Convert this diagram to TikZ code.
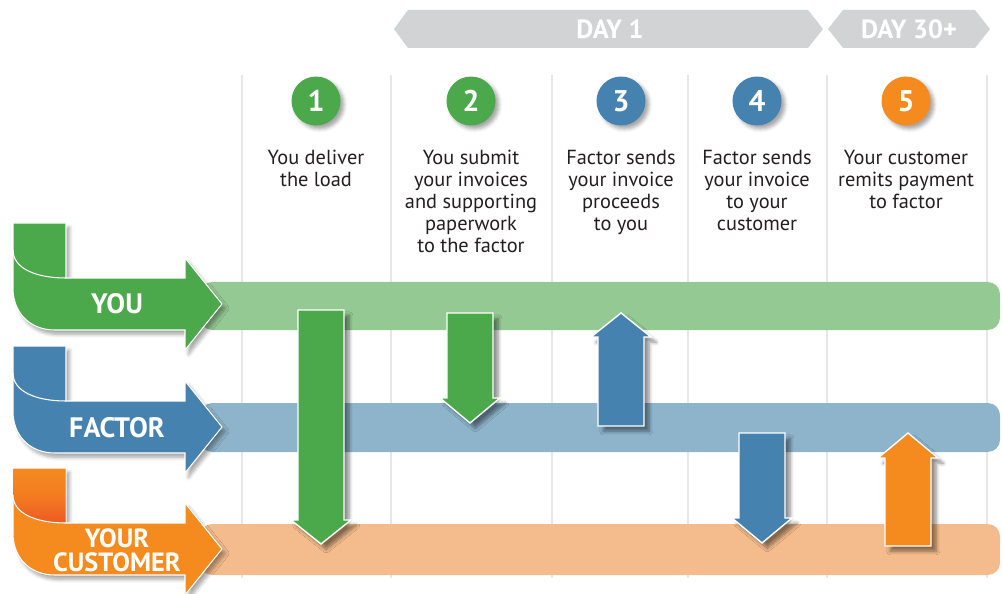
\documentclass[tikz,border=0pt]{standalone}
\usepackage{fontspec}
\setmainfont{PT Sans}
\usetikzlibrary{positioning,shadows,shadows.blur}
\usepackage{xcolor}
\definecolor{grn}{HTML}{4BA84B}
\definecolor{grnlt}{HTML}{95C994}
\definecolor{blu}{HTML}{4682AF}
\definecolor{blult}{HTML}{8EB4CB}
\definecolor{org}{HTML}{F58A1F}
\definecolor{orgdk}{HTML}{EE5A24}
\definecolor{orglt}{HTML}{F4BC8C}
\definecolor{daygray}{HTML}{D1D3D4}
\definecolor{gridgray}{HTML}{E6E7E8}
\definecolor{txt}{HTML}{231F20}

\begin{document}
\begin{tikzpicture}[
        x=0.02cm, y=-0.02cm,
        every node/.style={font=\fontsize{11.6}{12.5}\selectfont, text=txt},
        grid/.style={draw=gridgray, line width=0.8pt},
        band/.style={rounded corners=7pt},
        lane/.style={draw=white, line width=0.6pt, blur shadow={shadow xshift=2pt, shadow yshift=-2.5pt, shadow opacity=35, shadow blur steps=6}},
        curl/.style={draw=white, line width=0.6pt},
        vbar/.style={draw=white, line width=0.8pt, blur shadow={shadow xshift=3pt, shadow yshift=-3pt, shadow opacity=45, shadow blur steps=8}},
        stepnum/.style={circle, minimum size=0.98cm, inner sep=0pt, text=white, font=\bfseries\fontsize{17}{17}\selectfont, blur shadow={shadow xshift=2pt, shadow yshift=-2pt, shadow opacity=35}},
        steptext/.style={align=center, anchor=north, inner sep=0pt},
        lanelabel/.style={text=white, align=center, inner sep=0pt, font=\bfseries\fontsize{16}{13}\selectfont},
        day/.style={fill=daygray},
        daylabel/.style={text=white, font=\bfseries\fontsize{15}{15}\selectfont}
    ]
        \useasboundingbox (0,0) rectangle (1003,594);

        % Column rules
        \draw[grid] (242,75) -- (242,578);
        \draw[grid] (391,75) -- (391,578);
        \draw[grid] (552,75) -- (552,578);
        \draw[grid] (688,75) -- (688,578);
        \draw[grid] (827,75) -- (827,578);
        \draw[grid] (987,75) -- (987,578);

        % Lanes
        \fill[band, grnlt] (200,282) rectangle (1000,330);
        \fill[band, blult] (200,403) rectangle (1000,452);
        \fill[band, orglt] (200,524) rectangle (1000,575);

        % Lane arrows
        \draw[lane, fill=grn] (13,223) -- (66,223) -- (66,278) -- (185,278) -- (185,258) -- (222,304) -- (185,350) -- (185,330) -- (55,330) .. controls (30,330) and (13,313) .. (13,288) -- cycle;
        \draw[curl] (13,250) .. controls (13,268) and (35,278) .. (66,278);
        \node[lanelabel] (you) at (117,304) {YOU};

        \draw[lane, fill=blu, shift={(0,123)}] (13,223) -- (66,223) -- (66,278) -- (185,278) -- (185,258) -- (222,304) -- (185,350) -- (185,330) -- (55,330) .. controls (30,330) and (13,313) .. (13,288) -- cycle;
        \draw[curl, shift={(0,123)}] (13,250) .. controls (13,268) and (35,278) .. (66,278);
        \node[lanelabel] (factor) at (117,428) {FACTOR};

        \draw[lane, fill=org, shift={(0,245)}] (13,223) -- (66,223) -- (66,278) -- (185,278) -- (185,258) -- (222,304) -- (185,350) -- (185,330) -- (55,330) .. controls (30,330) and (13,313) .. (13,288) -- cycle;
        \shade[shading angle=30, top color=org, bottom color=orgdk, middle color=org!70!orgdk, shift={(0,245)}] (13.4,224) -- (65.6,224) -- (65.6,277.6) .. controls (35,277.6) and (13.4,268) .. (13.4,250) -- cycle;
        \draw[curl, shift={(0,245)}] (13,250) .. controls (13,268) and (35,278) .. (66,278);
        \node[lanelabel, font=\bfseries\fontsize{15}{13.5}\selectfont] (customer) at (117,550) {YOUR\\CUSTOMER};

        % Flow arrows
        \draw[vbar, fill=grn] (298,310) -- (344,310) -- (344,520) -- (351,520) -- (321,544) -- (291,520) -- (298,520) -- cycle;
        \draw[vbar, fill=grn] (447,313) -- (493,313) -- (493,398) -- (500,398) -- (470,423) -- (440,398) -- (447,398) -- cycle;
        \draw[vbar, fill=blu] (621,313) -- (651,337) -- (644,337) -- (644,426) -- (598,426) -- (598,337) -- (591,337) -- cycle;
        \draw[vbar, fill=blu] (739,433) -- (785,433) -- (785,518) -- (792,518) -- (762,543) -- (732,518) -- (739,518) -- cycle;
        \draw[vbar, fill=org] (908,433) -- (938,458) -- (931,458) -- (931,546) -- (885,546) -- (885,458) -- (878,458) -- cycle;

        % Steps
        \node[stepnum, fill=grn] (n1) at (316,101) {1};
        \node[stepnum, fill=grn] (n2) at (471,101) {2};
        \node[stepnum, fill=blu] (n3) at (621,101) {3};
        \node[stepnum, fill=blu] (n4) at (757,101) {4};
        \node[stepnum, fill=org] (n5) at (906,101) {5};

        \node[steptext] (t1) at (316,150) {You deliver\\the load};
        \node[steptext] (t2) at (471,150) {You submit\\your invoices\\and supporting\\paperwork\\to the factor};
        \node[steptext] (t3) at (621,150) {Factor sends\\your invoice\\proceeds\\to you};
        \node[steptext] (t4) at (757,150) {Factor sends\\your invoice\\to your\\customer};
        \node[steptext] (t5) at (906,150) {Your customer\\remits payment\\to factor};

        % Time banners
        \fill[day] (394,29) -- (408,10) -- (808,10) -- (823,29) -- (808,48) -- (408,48) -- cycle;
        \node[daylabel] (day1) at (610,29) {DAY 1};
        \fill[day] (828,29) -- (843,10) -- (975,10) -- (990,29) -- (975,48) -- (843,48) -- cycle;
        \node[daylabel] (day30) at (909,29) {DAY 30+};
    \end{tikzpicture}
\end{document}
